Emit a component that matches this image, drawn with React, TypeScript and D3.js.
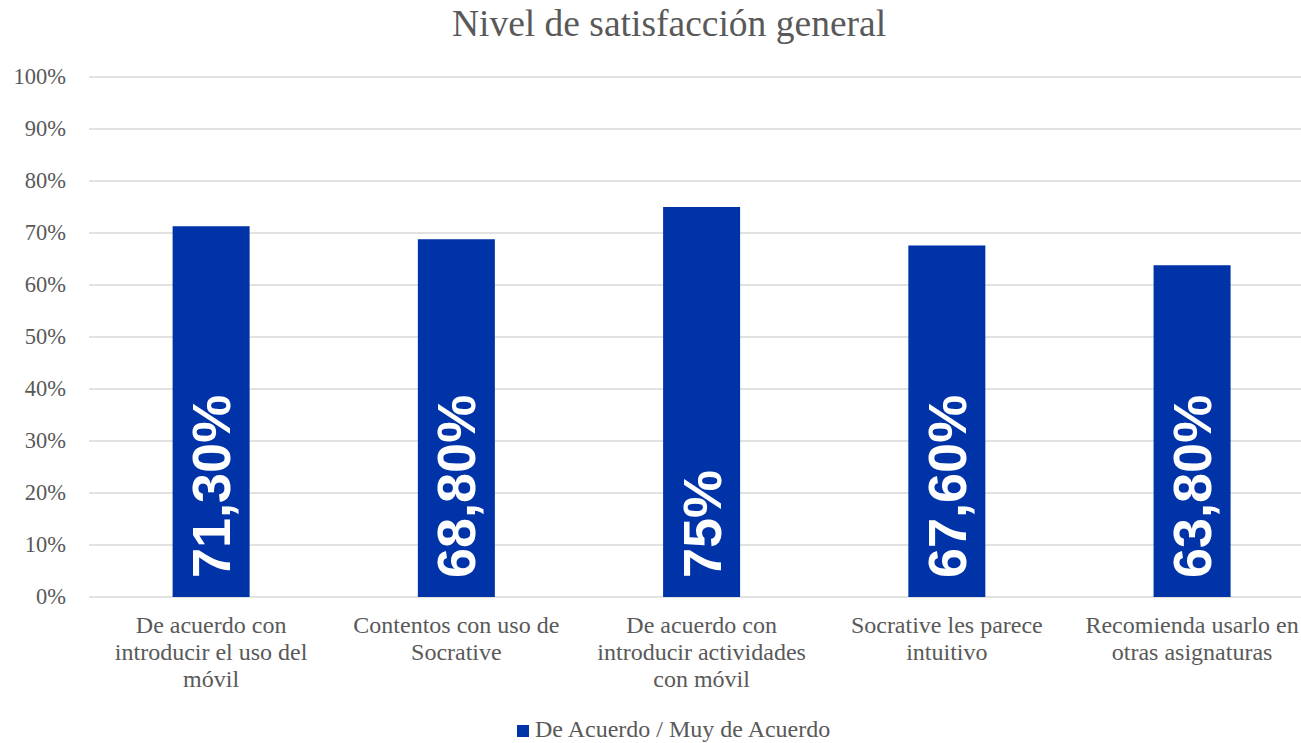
import React from 'react';
import * as d3 from 'd3';

const categories = [
  ['De acuerdo con', 'introducir el uso del', 'móvil'],
  ['Contentos con uso de', 'Socrative'],
  ['De acuerdo con', 'introducir actividades', 'con móvil'],
  ['Socrative les parece', 'intuitivo'],
  ['Recomienda usarlo en', 'otras asignaturas'],
];
const values = [0.713, 0.688, 0.75, 0.676, 0.638];
const valueLabels = ['71,30%', '68,80%', '75%', '67,60%', '63,80%'];
const yTicks = [0, 0.1, 0.2, 0.3, 0.4, 0.5, 0.6, 0.7, 0.8, 0.9, 1];
const seriesName = 'De Acuerdo / Muy de Acuerdo';

const W = 1301;
const H = 743;
const BLUE = '#0033a8';
const GREY = '#595959';
const SERIF = '"Liberation Serif", "Times New Roman", serif';
const SANS = '"Liberation Sans", Arial, sans-serif';

const App: React.FC = () => {
  const x = d3.scaleBand<number>()
    .domain(d3.range(values.length))
    .range([88.5, 1314.7])
    .paddingInner(0.686)
    .paddingOuter(0.343);
  const y = d3.scaleLinear().domain([0, 1]).range([597, 77]);
  const fmt = d3.format('.0%');

  return (
    <div style={{ position: 'fixed', left: 0, top: 0 }}>
      <svg width={W} height={H} style={{ display: 'block', background: '#fff' }}>
        <text x={669} y={36} textAnchor="middle" fontFamily={SERIF} fontSize={37.5} fill={GREY}>
          Nivel de satisfacción general
        </text>

        {/* gridlines + y labels */}
        {yTicks.map((t) => (
          <g key={t}>
            <line x1={89} x2={W} y1={y(t)} y2={y(t)} stroke="#d9d9d9" strokeWidth={1.5} />
            <text x={66} y={y(t)} dy="0.33em" textAnchor="end" fontFamily={SERIF} fontSize={22.5} fill={GREY}>
              {fmt(t)}
            </text>
          </g>
        ))}

        {/* bars */}
        {values.map((v, i) => (
          <rect key={i} x={x(i)} y={y(v)} width={x.bandwidth()} height={y(0) - y(v)} fill={BLUE} />
        ))}

        {/* value labels inside bars */}
        {values.map((v, i) => {
          const cx = (x(i) as number) + x.bandwidth() / 2;
          return (
            <text
              key={i}
              transform={`translate(${cx},${y(0) - 19}) rotate(-90)`}
              dy="0.35em"
              fontFamily={SANS}
              fontWeight="bold"
              fontSize={54}
              fill="#fff"
            >
              {valueLabels[i]}
            </text>
          );
        })}

        {/* category labels */}
        {categories.map((lines, i) => {
          const cx = (x(i) as number) + x.bandwidth() / 2;
          return (
            <text key={i} x={cx} y={633} textAnchor="middle" fontFamily={SERIF} fontSize={24} fill={GREY}>
              {lines.map((l, j) => (
                <tspan key={j} x={cx} dy={j === 0 ? 0 : 27}>{l}</tspan>
              ))}
            </text>
          );
        })}

        {/* legend */}
        <rect x={517} y={725} width={12} height={12} fill={BLUE} />
        <text x={535} y={737} fontFamily={SERIF} fontSize={24} fill={GREY}>{seriesName}</text>
      </svg>
    </div>
  );
};

export default App;
